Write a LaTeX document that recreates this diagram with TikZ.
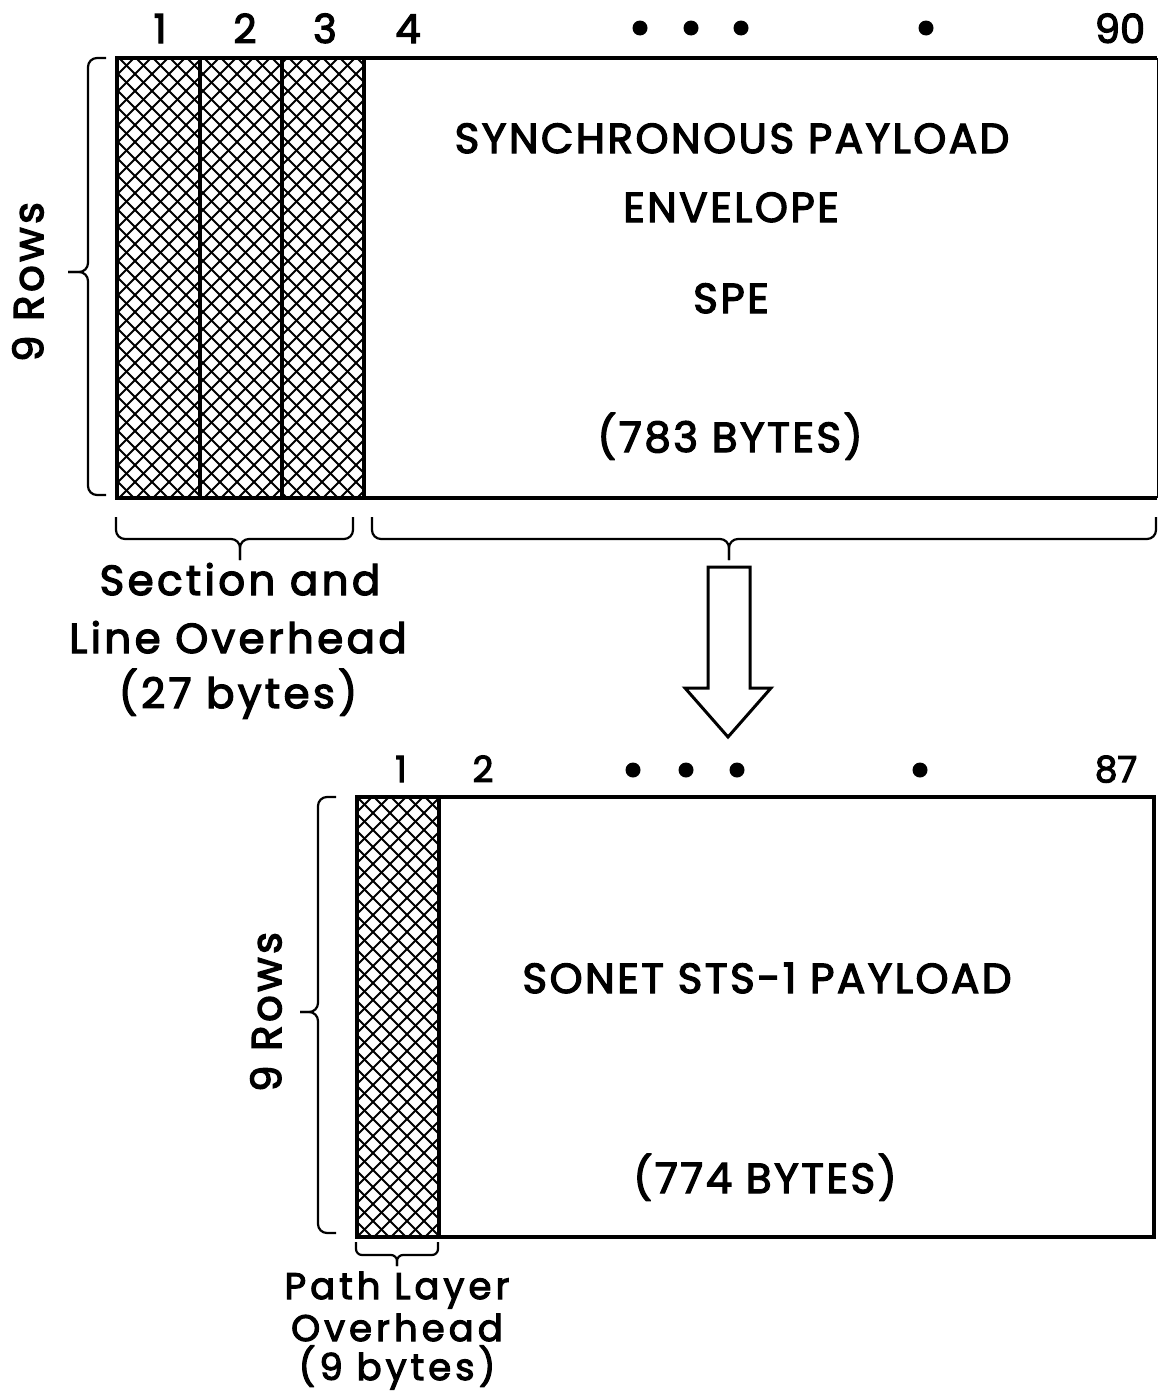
\documentclass[tikz,border=0pt]{standalone}
\usepackage{fontspec}
\newfontfamily\capfont{Poppins}[FakeBold=3,LetterSpace=6]
\newfontfamily\numfont{Poppins}[FakeBold=3]
\newfontfamily\lowfont{Poppins}[FakeBold=3,LetterSpace=8]
\newfontfamily\pathfont{Poppins}[FakeBold=3,LetterSpace=11]
\begin{document}
\begin{tikzpicture}[x=1pt,y=-1pt,
  frame/.style={line width=4pt},
  hatch/.style={line width=1.9pt},
  brace/.style={line width=2.2pt,rounded corners=9pt},
  bigtxt/.style={font=\capfont\fontsize{42}{50}\selectfont,anchor=base,inner sep=0pt},
  numtxt/.style={font=\numfont\fontsize{40}{44}\selectfont,anchor=base,inner sep=0pt},
  smnum/.style={font=\numfont\fontsize{36}{40}\selectfont,anchor=base,inner sep=0pt},
  lowtxt/.style={font=\lowfont\fontsize{42}{50}\selectfont,anchor=base,inner sep=0pt},
  pathtxt/.style={font=\pathfont\fontsize{37}{42}\selectfont,anchor=base,inner sep=0pt},
  dot/.style={circle,fill=black,inner sep=0pt,minimum size=15pt}]
\useasboundingbox (0,0) rectangle (1158,1392);

% ---------- top frame ----------
\begin{scope}
  \clip (117,58) rectangle (364,498);
  \foreach \k in {-442,-425,...,380} {
    \draw[hatch] (\k,58) -- ++(440,440);
    \draw[hatch] (\k,498) -- ++(440,-440);
  }
\end{scope}
\draw[line width=1pt] (1157,58) -- (1157,498);
\draw[frame] (1157,58) -- (117,58) -- (117,498) -- (1157,498);
\draw[frame] (200,58) -- (200,498);
\draw[frame] (282,58) -- (282,498);
\draw[frame] (364,58) -- (364,498);

\node[numtxt] (c1) at (160,43) {1};
\node[numtxt] (c2) at (245,43) {2};
\node[numtxt] (c3) at (325,43) {3};
\node[numtxt] (c4) at (408,43) {4};
\node[numtxt] (c90) at (1120,43) {90};
\node[dot] (d1) at (640,28) {};
\node[dot] (d2) at (691,28) {};
\node[dot] (d3) at (741,28) {};
\node[dot] (d4) at (926,28) {};

\node[bigtxt] (spe1) at (732,153) {SYNCHRONOUS PAYLOAD};
\node[bigtxt] (spe2) at (731,222) {ENVELOPE};
\node[bigtxt] (spe3) at (731,313) {SPE};
\node[bigtxt] (spe4) at (730,452) {(783 BYTES)};

% left brace top
\draw[brace] (106,58) -- (88,58) -- (88,272) -- (68,272);
\draw[brace] (68,272) -- (88,272) -- (88,495) -- (106,495);
\node[lowtxt,anchor=center,rotate=90] (rows1) at (28,282) {9 Rows};

% under-braces top
\draw[brace] (116,517) -- (116,539) -- (240,539) -- (240,560);
\draw[brace] (240,560) -- (240,539) -- (353,539) -- (353,517);
\draw[brace] (372,517) -- (372,539) -- (729,539) -- (729,560);
\draw[brace] (729,560) -- (729,539) -- (1156,539) -- (1156,517);

\node[lowtxt] (sl1) at (240,595) {Section and};
\node[lowtxt] (sl2) at (238,653) {Line Overhead};
\node[lowtxt] (sl3) at (238,708) {(27 bytes)};

% big arrow
\draw[line width=3pt,line join=miter] (708,567) -- (750,567) -- (750,688) -- (771,688)
  -- (728,737) -- (685,688) -- (708,688) -- cycle;

% ---------- bottom frame ----------
\begin{scope}
  \clip (357,797) rectangle (439,1237);
  \foreach \k in {-102,-85,...,450} {
    \draw[hatch] (\k,797) -- ++(440,440);
    \draw[hatch] (\k+440,797) -- ++(-440,440);
  }
\end{scope}
\draw[frame] (357,797) rectangle (1154,1237);
\draw[frame] (439,797) -- (439,1237);

\node[smnum] (b1) at (401,782) {1};
\node[smnum] (b2) at (483,782) {2};
\node[smnum] (b87) at (1116,782) {87};
\node[dot] (e1) at (633,770) {};
\node[dot] (e2) at (686,770) {};
\node[dot] (e3) at (737,770) {};
\node[dot] (e4) at (920,770) {};

\node[bigtxt] (pl1) at (767,993) {SONET STS-1 PAYLOAD};
\node[bigtxt] (pl2) at (765,1193) {(774 BYTES)};

\draw[brace] (336,797) -- (318,797) -- (318,1012) -- (300,1012);
\draw[brace] (300,1012) -- (318,1012) -- (318,1233) -- (336,1233);
\node[lowtxt,anchor=center,rotate=90] (rows2) at (266,1012) {9 Rows};

\draw[brace,rounded corners=6pt] (356,1242) -- (356,1255) -- (397,1255) -- (397,1266);
\draw[brace,rounded corners=6pt] (397,1266) -- (397,1255) -- (438,1255) -- (438,1242);

\node[pathtxt] (pa1) at (397,1299) {Path Layer};
\node[pathtxt] (pa2) at (397,1341) {Overhead};
\node[pathtxt] (pa3) at (397,1380) {(9 bytes)};
\end{tikzpicture}
\end{document}
